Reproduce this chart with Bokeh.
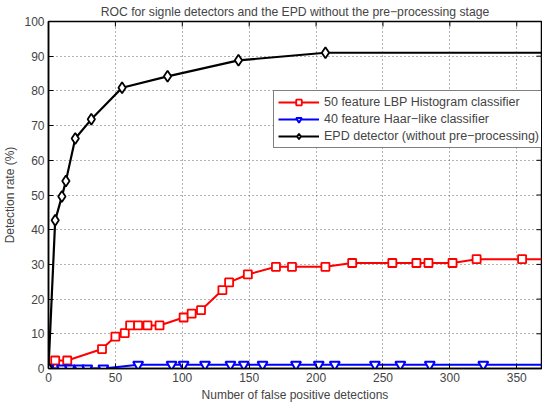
import math
from bokeh.plotting import figure
from bokeh.models import Range1d, FixedTicker
from bokeh.embed import file_html
from bokeh.resources import INLINE

title_text = "ROC for signle detectors and the EPD without the pre\u2212processing stage"
x_label = "Number of false positive detections"
y_label = "Detection rate (%)"

x_ticks = [0, 50, 100, 150, 200, 250, 300, 350]
y_ticks = [0, 10, 20, 30, 40, 50, 60, 70, 80, 90, 100]
x_max = 368.5
y_max = 100

lbp_name = "50 feature LBP Histogram classifier"
lbp_x = [0, 5, 14, 40, 50, 57, 61, 67, 74, 83, 101, 107, 114, 130, 135, 149,
         170, 182, 207, 227, 257, 275, 284, 302, 320, 354, 380]
lbp_y = [0, 2.3, 2.3, 5.6, 9.2, 10.2, 12.4, 12.4, 12.4, 12.4, 14.7, 15.8, 16.8,
         22.6, 24.8, 27.1, 29.3, 29.3, 29.3, 30.4, 30.4, 30.4, 30.4, 30.4, 31.5,
         31.5, 31.5]

haar_name = "40 feature Haar\u2212like classifier"
haar_x = [0, 10, 16, 23, 29, 41, 67, 92, 101, 117, 136, 146, 160, 185, 202,
          214, 244, 263, 285, 325, 380]
haar_y = [0, 0, 0, 0, 0, 0, 1.1, 1.1, 1.1, 1.1, 1.1, 1.1, 1.1, 1.1, 1.1,
          1.1, 1.1, 1.1, 1.1, 1.1, 1.1]

epd_name = "EPD detector (without pre\u2212processing)"
epd_x = [0, 5, 10, 13, 20, 32, 55, 89, 142, 207, 380]
epd_y = [0, 42.7, 49.6, 54.0, 66.3, 71.8, 80.9, 84.2, 88.8, 91.0, 91.0]

FONT = "Liberation Sans"

p = figure(width=542, height=404, output_backend="svg", toolbar_location=None,
           x_range=Range1d(0, x_max), y_range=Range1d(0, y_max),
           min_border_left=45, min_border_right=1, min_border_top=19,
           min_border_bottom=0)

p.title.text = title_text
p.title.align = "center"
p.title.text_font = FONT
p.title.text_font_size = "12.2px"
p.title.text_font_style = "normal"
p.title.standoff = 5

for ax, ticks in ((p.xaxis[0], x_ticks), (p.yaxis[0], y_ticks)):
    ax.ticker = FixedTicker(ticks=ticks)
    ax.major_label_text_font = FONT
    ax.major_label_text_font_size = "12px"
    ax.axis_label_text_font = FONT
    ax.axis_label_text_font_size = "12px"
    ax.axis_label_text_font_style = "normal"
    ax.major_tick_in = 5
    ax.major_tick_out = 0
    ax.minor_tick_line_color = None
    ax.axis_line_width = 1.5
    ax.major_tick_line_width = 1
    ax.major_label_standoff = 4

p.xaxis.axis_label = x_label
p.yaxis.axis_label = y_label
p.xaxis.axis_label_standoff = 3
p.yaxis.axis_label_standoff = 4
p.xaxis.major_label_standoff = 4

p.outline_line_color = "black"
p.outline_line_width = 1.5
p.grid.grid_line_color = "#666666"
p.grid.grid_line_dash = "1 3"
p.grid.grid_line_width = 1

# inward ticks on the top and right edges of the box
p.ray(x=x_ticks, y=[y_max] * len(x_ticks), length=5, length_units="screen",
      angle=-math.pi / 2, line_color="black", line_width=1)
p.ray(x=[x_max] * len(y_ticks), y=y_ticks, length=5, length_units="screen",
      angle=math.pi, line_color="black", line_width=1)

p.line(lbp_x, lbp_y, color="#ff0000", line_width=2, legend_label=lbp_name)
p.scatter(lbp_x, lbp_y, marker="square", size=8, line_color="#ff0000",
          line_width=1.8, fill_color="white", legend_label=lbp_name)

p.line(haar_x, haar_y, color="#0000ff", line_width=2, legend_label=haar_name)
p.scatter(haar_x, haar_y, marker="inverted_triangle", size=10, line_color="#0000ff",
          line_width=2, fill_color="white", legend_label=haar_name)

p.line(epd_x, epd_y, color="black", line_width=2.2, legend_label=epd_name)
p.scatter(epd_x, epd_y, marker="diamond", size=11, line_color="black",
          line_width=1.8, fill_color="white", legend_label=epd_name)

lg = p.legend[0]
lg.location = (225, 220)
lg.label_text_font = FONT
lg.label_text_font_size = "12.5px"
lg.label_height = 14
lg.glyph_height = 14
lg.glyph_width = 41
lg.spacing = 3
lg.padding = 4
lg.margin = 0
lg.label_standoff = 5
lg.border_line_color = "black"
lg.border_line_width = 1.5
lg.background_fill_alpha = 1

open("out.html", "w").write(file_html(p, INLINE))
